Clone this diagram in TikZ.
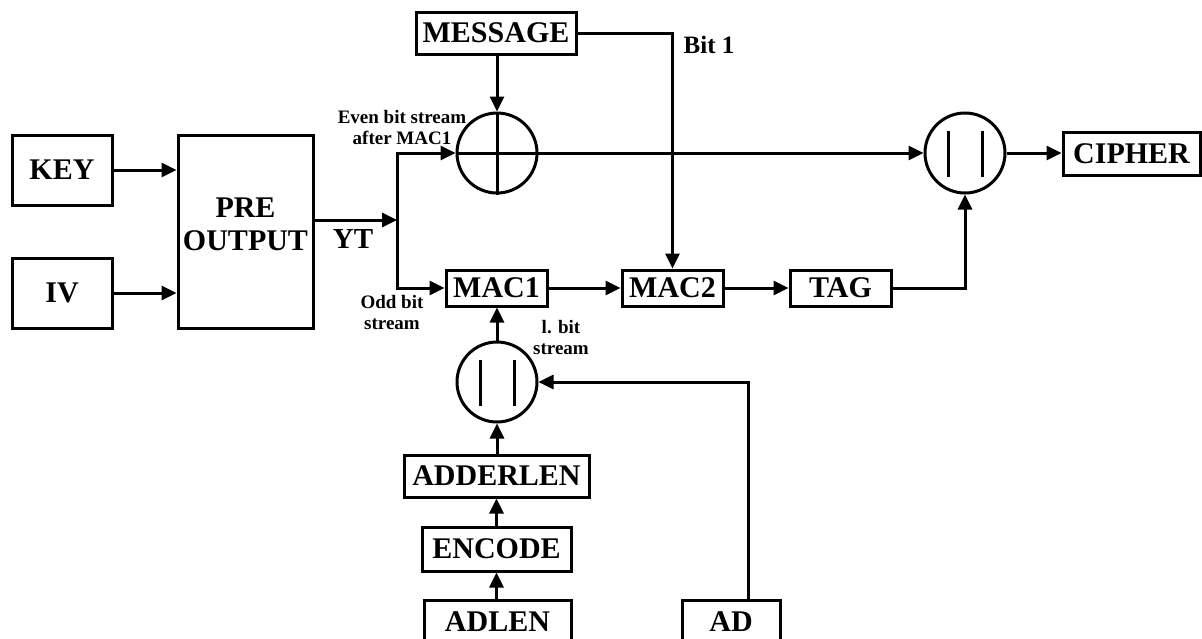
\documentclass[tikz,border=0pt]{standalone}
\usepackage{fontspec}
\setmainfont{Liberation Serif}
\usetikzlibrary{arrows.meta}
\tikzset{
  box/.style={draw, line width=3pt, inner sep=0pt, font=\fontsize{30}{33}\selectfont\bfseries, align=center},
  circ/.style={draw, circle, line width=3pt, minimum size=80pt, inner sep=0pt},
  arr/.style={line width=3pt, -{Triangle[length=15pt,width=14pt]}},
  ln/.style={line width=3pt},
  lbl/.style={font=\fontsize{19}{21}\selectfont\bfseries, align=center, inner sep=0pt},
}
\begin{document}
\begin{tikzpicture}[x=1pt,y=-1pt]
\useasboundingbox (0,0) rectangle (1202,638);
\clip (0,0) rectangle (1202,638);
% boxes
\node[box, minimum width=100pt, minimum height=70pt] (key) at (62,170) {KEY};
\node[box, minimum width=100pt, minimum height=70pt] (iv) at (62,293) {IV};
\node[box, minimum width=135pt, minimum height=193pt] (pre) at (245.5,231.5) {};
\node[box, draw=none] (pretext) at ([yshift=7pt]pre.center) {PRE\\OUTPUT};
\node[box, minimum width=160pt, minimum height=42pt] (message) at (496,33) {MESSAGE};
\node[circ] (xor) at (497,153) {};
\node[box, minimum width=101pt, minimum height=36pt] (mac1) at (496.5,288) {MAC1};
\node[box, minimum width=101pt, minimum height=36pt] (mac2) at (672.5,288) {MAC2};
\node[box, minimum width=101pt, minimum height=36pt] (tag) at (840.5,288) {TAG};
\node[circ] (cat1) at (965,153) {};
\node[box, minimum width=137pt, minimum height=43pt] (cipher) at (1131.5,153.5) {CIPHER};
\node[circ] (cat2) at (497,382) {};
\node[box, minimum width=185pt, minimum height=42pt] (adderlen) at (496.5,476) {ADDERLEN};
\node[box, minimum width=149pt, minimum height=44pt] (encode) at (496.5,549) {ENCODE};
\node[box, minimum width=147pt, minimum height=44pt] (adlen) at (497.5,622) {ADLEN};
\node[box, minimum width=98pt, minimum height=44pt] (ad) at (731,622) {AD};
% circle symbols
\draw[ln] (xor.north) -- (xor.south);
\draw[ln] (xor.west) -- (xor.east);
\draw[ln] ([shift={(-17,-22)}]cat1.center) -- ([shift={(-17,24)}]cat1.center);
\draw[ln] ([shift={(17,-22)}]cat1.center) -- ([shift={(17,24)}]cat1.center);
\draw[ln] ([shift={(-17,-22)}]cat2.center) -- ([shift={(-17,24)}]cat2.center);
\draw[ln] ([shift={(17,-22)}]cat2.center) -- ([shift={(17,24)}]cat2.center);
% connectors
\coordinate (split) at (397,220);
\draw[arr] (key.east) -- (key.east -| pre.west);
\draw[arr] (iv.east) -- (iv.east -| pre.west);
\draw[arr] (pre.east |- split) -- (split);
\draw[arr] (split) |- (xor.west);
\draw[arr] (split) |- (mac1.west);
\draw[arr] (message.south -| xor.north) -- (xor.north);
\draw[arr] (message.east) -| (mac2.north);
\draw[arr] (xor.east) -- (cat1.west);
\draw[arr] (cat1.east) -- (cipher.west |- cat1.east);
\draw[arr] (mac1.east) -- (mac2.west);
\draw[arr] (mac2.east) -- (tag.west);
\draw[arr] (tag.east) -| (cat1.south);
\draw[arr] (cat2.north) -- (cat2.north |- mac1.south);
\draw[arr] (adderlen.north -| cat2.south) -- (cat2.south);
\draw[arr] (encode.north) -- (adderlen.south);
\draw[arr] (adlen.north -| encode.south) -- (encode.south);
\draw[arr] ([xshift=17pt]ad.north) |- (cat2.east);
% labels
\node[lbl, font=\fontsize{25}{27}\selectfont\bfseries] (bit1) at (709,45) {Bit 1};
\node[lbl] (even) at (402,127) {Even bit stream\\after MAC1};
\node[lbl] (odd) at (392,312) {Odd bit\\stream};
\node[lbl] (lbit) at (561,337) {l. bit\\stream};
\node[lbl, font=\fontsize{29}{31}\selectfont\bfseries] (yt) at (353,239) {YT};
\end{tikzpicture}
\end{document}
